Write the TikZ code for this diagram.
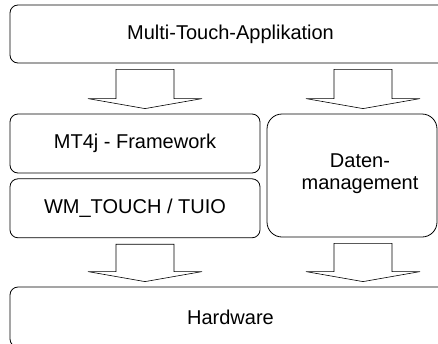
\documentclass[tikz,border=0pt]{standalone}
\usepackage{fontspec}
\setmainfont{Liberation Sans}
\usepackage{tikz}
\usetikzlibrary{calc}
\usetikzlibrary{positioning}
\tikzset{layer/.style = {draw, line width = 0.8pt, rounded corners = 8pt,
                         inner sep = 0, align = center,
                         font = \fontsize{20}{22}\selectfont}}
\tikzset{flow/.style = {draw, line width = 0.6pt, fill = white, line join = miter}}
\newcommand{\blockarrow}[3]{%
  \path let \p1 = ($(#1.south -| #3) + (0, -6)$),
            \p2 = ($(#2.north -| #3) + (0, 5)$) in
    [flow] (\x1 - 29pt, \y1) -- (\x1 + 29pt, \y1) -- (\x1 + 29pt, \y2 + 10pt)
    -- (\x1 + 57pt, \y2 + 10pt) -- (\x2, \y2) -- (\x1 - 57pt, \y2 + 10pt)
    -- (\x1 - 29pt, \y2 + 10pt) -- cycle;}

\begin{document}
\begin{tikzpicture}[x = 1pt, y = 1pt]
    \useasboundingbox (0, 0) rectangle (438, -343);
    \clip (0, 0) rectangle (438, -343);

    \node [layer, minimum width = 441, minimum height = 58] (app) at (230.5, -34) {Multi-Touch-Applikation};
    \node [layer, minimum width = 250, minimum height = 59] (mt4j) at (135, -143.5) {MT4j - Framework};
    \node [layer, minimum width = 250, minimum height = 59, below = 5 of mt4j] (wm) {WM\_TOUCH / TUIO};
    \node [layer, rounded corners = 15pt, minimum width = 170, minimum height = 123] (data) at (352, -175.5) {};
    \node [layer, draw = none] (datatext) at ([xshift = 8pt, yshift = 2pt] data.center) {Daten-\\management};
    \node [layer, minimum width = 441, minimum height = 60] (hw) at (230.5, -317) {Hardware};

    \coordinate (lx) at (145, 0);
    \coordinate (rx) at (363, 0);

    \blockarrow{app}{mt4j}{lx}
    \blockarrow{app}{data}{rx}
    \blockarrow{wm}{hw}{lx}
    \blockarrow{data}{hw}{rx}

  \end{tikzpicture}
\end{document}
